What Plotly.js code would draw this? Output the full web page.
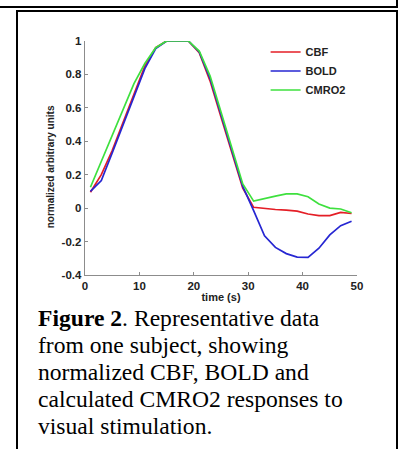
<!DOCTYPE html>
<html>
<head>
<meta charset="utf-8">
<script src="https://cdn.plot.ly/plotly-3.0.1.min.js"></script>
<style>
  html, body { margin: 0; padding: 0; background: #fff; }
  #wrap { position: relative; width: 400px; height: 449px; overflow: hidden; background: #fff; }
  #topbox { position: absolute; left: -4px; top: -10px; width: 398px; height: 14px; border: 2px solid #000; box-sizing: content-box; }
  #box { position: absolute; left: 16px; top: 10px; width: 378px; height: 460px; border: 2px solid #000; }
  #chart { position: absolute; left: 0; top: 0; width: 400px; height: 449px; }
  #caption { position: absolute; left: 38px; top: 305px; width: 355px; font-family: "Liberation Serif", "Times New Roman", serif; font-size: 23.6px; line-height: 27px; color: #000; }
</style>
</head>
<body>
<div id="wrap">
  <div id="topbox"></div>
  <div id="box"></div>
  <div id="chart"></div>
  <div id="caption"><b>Figure 2</b>. Representative data<br>from one subject, showing<br>normalized CBF, BOLD and<br>calculated CMRO2 responses to<br>visual stimulation.</div>
</div>
<script>
// time in seconds
const time = [1,3,5,7,9,11,13,15,17,19,21,23,25,27,29,31,33,35,37,39,41,43,45,47,49];
const cbf   = [0.095,0.20,0.345,0.515,0.685,0.85,0.96,1.0,1.0,1.0,0.93,0.76,0.545,0.335,0.12,0.005,-0.003,-0.008,-0.012,-0.018,-0.035,-0.045,-0.045,-0.025,-0.032];
const bold  = [0.10,0.165,0.33,0.50,0.67,0.835,0.955,1.0,1.0,1.0,0.935,0.775,0.56,0.35,0.13,-0.015,-0.165,-0.235,-0.272,-0.293,-0.295,-0.24,-0.16,-0.105,-0.078];
const cmro2 = [0.125,0.28,0.435,0.59,0.745,0.865,0.96,1.0,1.0,1.0,0.94,0.79,0.575,0.365,0.145,0.042,0.058,0.072,0.085,0.085,0.068,0.025,0.0,-0.005,-0.028];
const seriesNames = ["CBF","BOLD","CMRO2"];
const xTickVals = [0,10,20,30,40,50];
const xTickText = ["0","10","20","30","40","50"];
const yTickVals = [-0.4,-0.2,0,0.2,0.4,0.6,0.8,1];
const yTickText = ["-0.4","-0.2","0","0.2","0.4","0.6","0.8","1"];

const colors = ["#e41e26","#2626d2","#3ee03e"];
const series = [cbf, bold, cmro2];
const traces = series.map((s, i) => ({
  x: time, y: s, name: seriesNames[i], type: "scatter", mode: "lines",
  line: {color: colors[i], width: 1.7}
}));

const fam = "Liberation Sans, Arial, sans-serif";
const tickFont = {family: fam, size: 11.5, weight: "bold", color: "#222"};
const axisCommon = {
  showline: true, linecolor: "#8c8c8c", linewidth: 1.3,
  ticks: "inside", ticklen: 3, tickcolor: "#8c8c8c", tickwidth: 1,
  showgrid: false, zeroline: false, tickfont: tickFont, mirror: false
};

const layout = {
  width: 400, height: 449,
  margin: {l: 85, r: 42.5, t: 40.6, b: 174},
  paper_bgcolor: "rgba(0,0,0,0)", plot_bgcolor: "rgba(0,0,0,0)",
  showlegend: true,
  legend: {x: 0.664, y: 1.015, xanchor: "left", yanchor: "top", bgcolor: "rgba(0,0,0,0)",
    font: {family: fam, size: 11, weight: "bold", color: "#222"}},
  xaxis: Object.assign({}, axisCommon, {range: [0, 50], tickvals: xTickVals, ticktext: xTickText,
    title: {text: "time (s)", standoff: 2, font: {family: fam, size: 11, weight: "bold", color: "#222"}}}),
  yaxis: Object.assign({}, axisCommon, {range: [-0.4, 1], tickvals: yTickVals, ticktext: yTickText}),
  annotations: [{
    text: "normalized arbitrary units", textangle: -90, showarrow: false,
    xref: "paper", yref: "paper", x: -0.128, y: 0.461, xanchor: "center", yanchor: "middle",
    font: {family: fam, size: 10, weight: "bold", color: "#222"}
  }]
};

Plotly.newPlot("chart", traces, layout, {displayModeBar: false, staticPlot: true});
</script>
</body>
</html>
